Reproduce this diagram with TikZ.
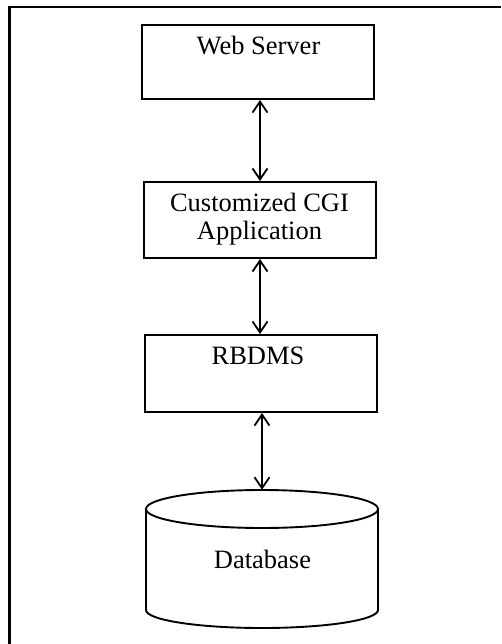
\documentclass[tikz,border=0pt]{standalone}
\usepackage{fontspec}
\setmainfont{Liberation Serif}
\usetikzlibrary{arrows.meta}
\begin{document}
\begin{tikzpicture}[x=1pt,y=-1pt,
  box/.style={draw, line width=2pt, minimum width=232pt, minimum height=76pt, inner sep=0pt},
  txt/.style={font=\fontsize{26.5}{28}\selectfont, inner sep=0pt, align=center},
  arr/.style={line width=1.8pt, {Straight Barb[length=11pt,width=15pt]}-{Straight Barb[length=11pt,width=15pt]}},
  frame/.style={line width=2.6pt},
  cyl/.style={line width=1.9pt}]
\useasboundingbox (0,0) rectangle (501,644);
% outer frame (top and left edges only)
\draw[frame] (8,7) -- (501,7);
\draw[frame] (9.5,7) -- (9.5,644);
% boxes
\node[box, minimum height=74pt] (web) at (258,62) {};
\node[txt, anchor=base] (webt) at (258.5,55) {Web Server};
\node[box] (cgi) at (259.5,220) {};
\node[txt] (cgit) at (259.5,219) {Customized CGI\\Application};
\node[box, minimum height=77pt] (rdb) at (260.5,373.5) {};
\node[txt, anchor=base] (rdbt) at (258,364) {RBDMS};
% database cylinder
\node[minimum width=232pt, minimum height=138pt, inner sep=0pt] (db) at (262,559) {};
\draw[cyl] (146,509) arc[start angle=180,end angle=360,x radius=116,y radius=19]
  -- (378,610) arc[start angle=0,end angle=180,x radius=116,y radius=18] -- cycle;
\draw[cyl] (146,509) arc[start angle=180,end angle=0,x radius=116,y radius=19];
\node[txt, anchor=base] (dbt) at (262.5,568) {Database};
% connectors
\draw[arr] ([xshift=2pt]web.south) -- ([xshift=0.5pt]cgi.north);
\draw[arr] ([xshift=0.5pt]cgi.south) -- ([xshift=-0.5pt]rdb.north);
\draw[arr] ([xshift=1.5pt]rdb.south) -- (db.north);
\end{tikzpicture}
\end{document}
